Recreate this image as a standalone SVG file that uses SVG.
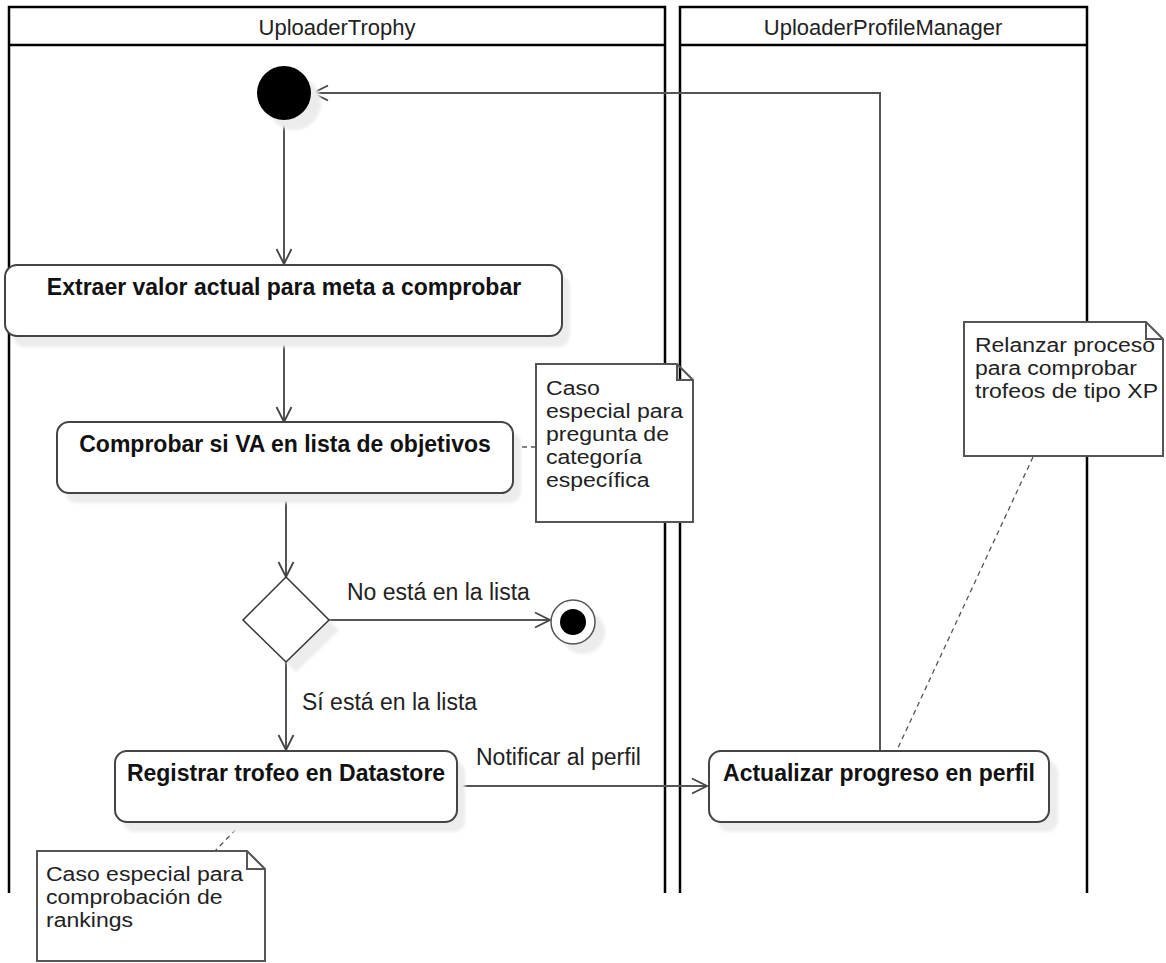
<svg xmlns="http://www.w3.org/2000/svg" width="1166" height="963" viewBox="0 0 1166 963">
  <style>
    .lane { fill: none; stroke: #000; stroke-width: 2.5; }
    .lane-title { font-family: "Liberation Sans", Arial, sans-serif; font-size: 22px; fill: #222; text-anchor: middle; }
    .act { fill: #fff; stroke: #444; stroke-width: 2; }
    .act-text { font-family: "Liberation Sans", Arial, sans-serif; font-size: 23px; font-weight: bold; fill: #111; text-anchor: middle; }
    .shadow { fill: #ececec; filter: url(#soft); }
    .note { fill: #fff; stroke: #555; stroke-width: 2; }
    .note-text { font-family: "Liberation Sans", Arial, sans-serif; font-size: 20px; fill: #222; }
    .label { font-family: "Liberation Sans", Arial, sans-serif; font-size: 23px; fill: #222; }
    .flow { fill: none; stroke: #555; stroke-width: 2; marker-end: url(#open-arrow); }
    .anchor { fill: none; stroke: #555; stroke-width: 1.3; stroke-dasharray: 5 4; }
  </style>
  <defs>
    <filter id="soft" x="-20%" y="-20%" width="140%" height="140%">
      <feGaussianBlur stdDeviation="1.5"/>
    </filter>
    <marker id="open-arrow" viewBox="0 0 18 18" refX="16" refY="9" markerWidth="18" markerHeight="18" markerUnits="userSpaceOnUse" orient="auto">
      <path d="M1,1.5 L16,9 L1,16.5" fill="none" stroke="#444" stroke-width="1.8"/>
    </marker>
  </defs>

  <rect width="1166" height="963" fill="#fff"/>

  <!-- swimlanes -->
  <g id="lane-uploader-trophy">
    <path class="lane" d="M9,893 V7 H665 V893 M9,45 H665"/>
    <text class="lane-title" x="337" y="35">UploaderTrophy</text>
  </g>
  <g id="lane-uploader-profile-manager">
    <path class="lane" d="M680,893 V7 H1087 V893 M680,45 H1087"/>
    <text class="lane-title" x="883" y="35">UploaderProfileManager</text>
  </g>

  <!-- connectors -->
  <g id="connectors">
    <path class="flow" d="M284,121 V264"/>
    <path class="flow" d="M284,337 V422"/>
    <path class="flow" d="M286,494 V577"/>
    <path class="flow" d="M329,620 H550"/>
    <path class="flow" d="M286,662 V750"/>
    <path class="flow" d="M457,786 H707"/>
    <path class="flow" d="M880,751 V93 H313"/>
    <text class="label" x="347" y="600">No está en la lista</text>
    <text class="label" x="302" y="710">Sí está en la lista</text>
    <text class="label" x="476" y="765">Notificar al perfil</text>
    <path class="anchor" d="M513,447 H536"/>
    <path class="anchor" d="M1033,457 L897,750"/>
    <path class="anchor" d="M242,823 L215,851"/>
  </g>

  <!-- nodes -->
  <g id="initial">
    <circle class="shadow" cx="294" cy="103" r="27"/>
    <circle cx="284" cy="93" r="27" fill="#000"/>
  </g>

  <g id="extraer-valor">
    <rect class="shadow" x="13" y="275" width="557" height="72" rx="12"/>
    <rect class="act" x="5" y="265" width="557" height="71" rx="12"/>
    <text class="act-text" x="284" y="295">Extraer valor actual para meta a comprobar</text>
  </g>

  <g id="comprobar-va">
    <rect class="shadow" x="65" y="432" width="456" height="71" rx="12"/>
    <rect class="act" x="57" y="422" width="456" height="71" rx="12"/>
    <text class="act-text" x="285" y="452">Comprobar si VA en lista de objetivos</text>
  </g>

  <g id="note-categoria">
    <path class="note" d="M536,364 H677 L693,380 V522 H536 Z M677,364 V380 H693"/>
    <text class="note-text" x="546" y="395" textLength="54" lengthAdjust="spacingAndGlyphs">Caso</text>
    <text class="note-text" x="546" y="418" textLength="137" lengthAdjust="spacingAndGlyphs">especial para</text>
    <text class="note-text" x="546" y="441" textLength="123" lengthAdjust="spacingAndGlyphs">pregunta de</text>
    <text class="note-text" x="546" y="464" textLength="96" lengthAdjust="spacingAndGlyphs">categoría</text>
    <text class="note-text" x="546" y="487" textLength="103.5" lengthAdjust="spacingAndGlyphs">específica</text>
  </g>

  <g id="decision">
    <polygon class="shadow" points="296,588 339,630 296,672 253,630"/>
    <polygon points="286,577 329,620 286,662 243,620" fill="#fff" stroke="#333" stroke-width="1.5"/>
  </g>

  <g id="final">
    <circle class="shadow" cx="583" cy="632" r="22"/>
    <circle cx="573" cy="622" r="22" fill="#fff" stroke="#555" stroke-width="1.5"/>
    <circle cx="573" cy="622" r="13" fill="#000"/>
  </g>

  <g id="registrar-trofeo">
    <rect class="shadow" x="123" y="761" width="342" height="71" rx="12"/>
    <rect class="act" x="115" y="751" width="342" height="71" rx="12"/>
    <text class="act-text" x="286" y="781">Registrar trofeo en Datastore</text>
  </g>

  <g id="note-rankings">
    <path class="note" d="M37,851 H247 L265,869 V961 H37 Z M247,851 V869 H265"/>
    <text class="note-text" x="46" y="881" textLength="197" lengthAdjust="spacingAndGlyphs">Caso especial para</text>
    <text class="note-text" x="46" y="904" textLength="176.5" lengthAdjust="spacingAndGlyphs">comprobación de</text>
    <text class="note-text" x="46" y="927" textLength="87" lengthAdjust="spacingAndGlyphs">rankings</text>
  </g>

  <g id="actualizar-progreso">
    <rect class="shadow" x="718" y="761" width="340" height="71" rx="12"/>
    <rect class="act" x="709" y="751" width="340" height="71" rx="12"/>
    <text class="act-text" x="879" y="781">Actualizar progreso en perfil</text>
  </g>

  <g id="note-relanzar">
    <path class="note" d="M964,322 H1146 L1163,339 V456 H964 Z M1146,322 V339 H1163"/>
    <text class="note-text" x="975" y="352" textLength="180" lengthAdjust="spacingAndGlyphs">Relanzar proceso</text>
    <text class="note-text" x="975" y="375" textLength="162" lengthAdjust="spacingAndGlyphs">para comprobar</text>
    <text class="note-text" x="975" y="398" textLength="183" lengthAdjust="spacingAndGlyphs">trofeos de tipo XP</text>
  </g>
</svg>
